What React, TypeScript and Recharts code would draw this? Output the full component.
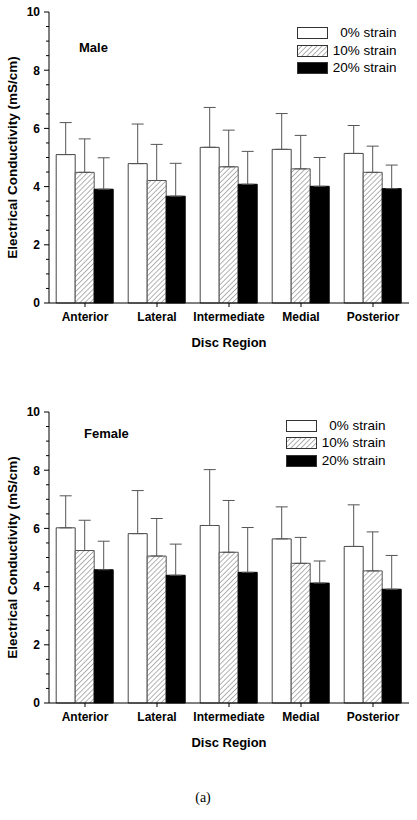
import { Bar, BarChart, ErrorBar, Legend, XAxis, YAxis } from "recharts";

const regions = ["Anterior", "Lateral", "Intermediate", "Medial", "Posterior"];
const strainNames = ["0% strain", "10% strain", "20% strain"];
const yTicks = [0, 0.5, 1, 1.5, 2, 2.5, 3, 3.5, 4, 4.5, 5, 5.5, 6, 6.5, 7, 7.5, 8, 8.5, 9, 9.5, 10];
const yLabelTicks = [0, 2, 4, 6, 8, 10];

// male: mean and SD per strain level
const male0 = [5.1, 4.79, 5.35, 5.28, 5.14];
const male0Sd = [1.1, 1.36, 1.37, 1.23, 0.96];
const male10 = [4.49, 4.21, 4.68, 4.61, 4.49];
const male10Sd = [1.15, 1.24, 1.26, 1.15, 0.9];
const male20 = [3.91, 3.67, 4.08, 4.01, 3.93];
const male20Sd = [1.08, 1.13, 1.13, 0.99, 0.81];

// female
const female0 = [6.02, 5.82, 6.1, 5.64, 5.38];
const female0Sd = [1.1, 1.48, 1.92, 1.1, 1.43];
const female10 = [5.24, 5.05, 5.18, 4.8, 4.54];
const female10Sd = [1.04, 1.29, 1.78, 0.89, 1.34];
const female20 = [4.58, 4.39, 4.49, 4.12, 3.91];
const female20Sd = [0.98, 1.07, 1.54, 0.76, 1.16];

const font = '"Liberation Sans", Arial, Helvetica, sans-serif';

const barStyles = [
  { fill: "#ffffff", stroke: "#444" },
  { fill: "url(#hatch)", stroke: "#555" },
  { fill: "#000000", stroke: "#000" },
];

function buildRows(means: number[][], sds: number[][]) {
  return regions.map((region, i) => ({
    region,
    s0: means[0][i],
    e0: [0, sds[0][i]],
    s10: means[1][i],
    e10: [0, sds[1][i]],
    s20: means[2][i],
    e20: [0, sds[2][i]],
  }));
}

const maleRows = buildRows([male0, male10, male20], [male0Sd, male10Sd, male20Sd]);
const femaleRows = buildRows([female0, female10, female20], [female0Sd, female10Sd, female20Sd]);

function YTick(props: any) {
  const { x, y, payload } = props;
  const major = yLabelTicks.includes(payload.value);
  return (
    <g>
      <line x1={x - (major ? 5 : 3)} x2={x} y1={y} y2={y} stroke="#000" />
      {major && (
        <text x={x - 9} y={y + 4.3} textAnchor="end" fontFamily={font} fontSize={12} fontWeight={700} fill="#000">
          {payload.value}
        </text>
      )}
    </g>
  );
}

function StrainLegend() {
  return (
    <div style={{ fontFamily: font, fontSize: 13.5, color: "#000" }}>
      {strainNames.map((name, i) => (
        <div key={name} style={{ display: "flex", alignItems: "center", height: 17.3 }}>
          <svg width={31} height={12} style={{ display: "block" }}>
            <rect x={0.5} y={0.5} width={30} height={11} fill={barStyles[i].fill} stroke="#333" />
          </svg>
          <span style={{ width: 69, textAlign: "right", lineHeight: "14px" }}>{name}</span>
        </div>
      ))}
    </div>
  );
}

type ChartProps = {
  data: ReturnType<typeof buildRows>;
  title: string;
  titleX: number;
  titleY: number;
  legendLeft: number;
  legendTop: number;
};

function ConductivityChart({ data, title, titleX, titleY, legendLeft, legendTop }: ChartProps) {
  return (
    <BarChart
      width={417}
      height={360}
      data={data}
      margin={{ top: 12, right: 8, bottom: 0, left: 0 }}
      barCategoryGap="10%"
      barGap={0}
    >
      <defs>
        <pattern id="hatch" width={3.6} height={3.6} patternUnits="userSpaceOnUse" patternTransform="rotate(45)">
          <rect width={3.6} height={3.6} fill="#fff" />
          <line x1={0} y1={0} x2={0} y2={3.6} stroke="#666" strokeWidth={1} />
        </pattern>
      </defs>
      <XAxis
        dataKey="region"
        height={57}
        interval={0}
        tickSize={4}
        tickMargin={5}
        stroke="#000"
        tick={{ fill: "#000", fontSize: 12, fontWeight: 700, fontFamily: font }}
        label={{
          value: "Disc Region",
          position: "insideBottom",
          offset: 13.5,
          style: { fontFamily: font, fontSize: 13, fontWeight: 700, fill: "#000" },
        }}
      />
      <YAxis
        domain={[0, 10]}
        ticks={yTicks}
        interval={0}
        width={49}
        tickSize={0}
        tickMargin={0}
        tickLine={false}
        stroke="#000"
        tick={<YTick />}
        label={{
          value: "Electrical Conductivity (mS/cm)",
          angle: -90,
          position: "insideLeft",
          offset: 12,
          style: { textAnchor: "middle", fontFamily: font, fontSize: 13.5, fontWeight: 700, fill: "#000" },
        }}
      />
      <Legend
        layout="vertical"
        align="center"
        verticalAlign="middle"
        wrapperStyle={{ left: legendLeft, top: legendTop, width: 100 }}
        content={() => <StrainLegend />}
      />
      <Bar dataKey="s0" name={strainNames[0]} fill={barStyles[0].fill} stroke={barStyles[0].stroke} isAnimationActive={false}>
        <ErrorBar dataKey="e0" width={6} stroke="#555" strokeWidth={1} direction="y" />
      </Bar>
      <Bar dataKey="s10" name={strainNames[1]} fill={barStyles[1].fill} stroke={barStyles[1].stroke} isAnimationActive={false}>
        <ErrorBar dataKey="e10" width={6} stroke="#555" strokeWidth={1} direction="y" />
      </Bar>
      <Bar dataKey="s20" name={strainNames[2]} fill={barStyles[2].fill} stroke={barStyles[2].stroke} isAnimationActive={false}>
        <ErrorBar dataKey="e20" width={6} stroke="#555" strokeWidth={1} direction="y" />
      </Bar>
      <text x={titleX} y={titleY} fontFamily={font} fontSize={13} fontWeight={700} fill="#000">
        {title}
      </text>
    </BarChart>
  );
}

export default function App() {
  return (
    <div style={{ position: "absolute", left: 0, top: 0, width: 417, height: 820, background: "#fff" }}>
      <div style={{ position: "absolute", left: 0, top: 0 }}>
        <ConductivityChart data={maleRows} title="Male" titleX={79} titleY={52} legendLeft={296.5} legendTop={24.7} />
      </div>
      <div style={{ position: "absolute", left: 0, top: 400 }}>
        <ConductivityChart data={femaleRows} title="Female" titleX={84} titleY={38.3} legendLeft={285.5} legendTop={17.4} />
      </div>
      <div
        style={{
          position: "absolute",
          left: 0,
          width: 406,
          top: 790,
          textAlign: "center",
          fontFamily: '"Liberation Serif", "Times New Roman", serif',
          fontSize: 14,
        }}
      >
        (a)
      </div>
    </div>
  );
}
